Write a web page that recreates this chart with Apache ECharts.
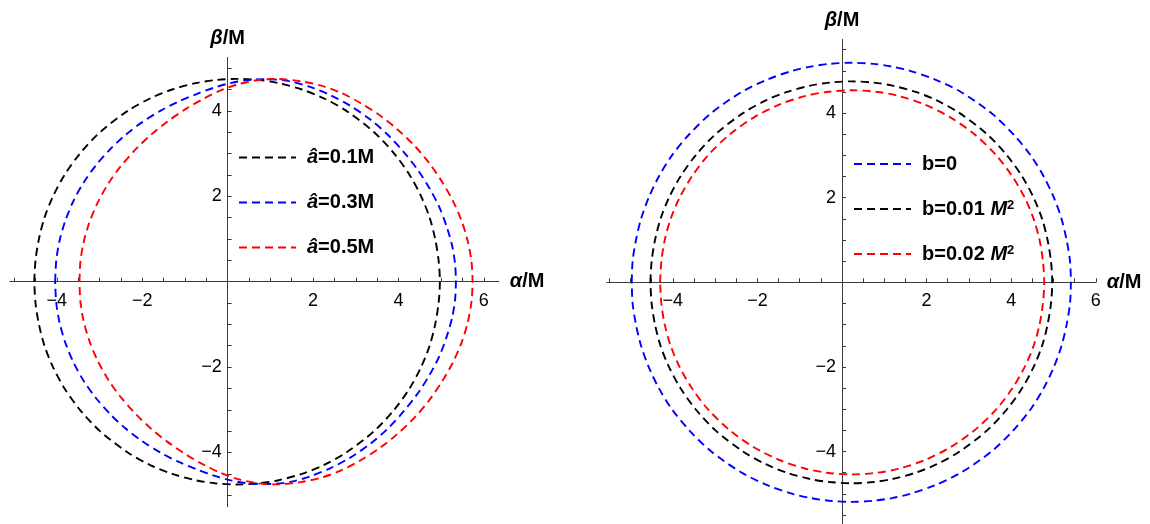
<!DOCTYPE html>
<html>
<head>
<meta charset="utf-8">
<script src="https://cdn.jsdelivr.net/npm/echarts@6/dist/echarts.min.js"></script>
<style>
html,body{margin:0;padding:0;background:#fff;}
#c{width:1150px;height:524px;}
</style>
</head>
<body>
<div id="c"></div>
<script>
// ---------- data (upper halves; curves are symmetric in beta) ----------
// left panel: a-hat = 0.1M (black), 0.3M (blue), 0.5M (red)
const shadowA01 = [[-4.53,0],[-4.5,0.5],[-4.42,1.0],[-4.29,1.5],[-4.09,2.0],[-3.82,2.5],[-3.46,3.0],[-2.99,3.5],[-2.34,4.0],[-1.8,4.3],[-1.3,4.5],[-0.75,4.65],[-0.3,4.72],[0.22,4.75],[0.75,4.72],[1.19,4.65],[1.74,4.5],[2.24,4.3],[2.78,4.0],[3.43,3.5],[3.9,3.0],[4.26,2.5],[4.53,2.0],[4.73,1.5],[4.86,1.0],[4.94,0.5],[4.97,0]];
const shadowA03 = [[-4.04,0],[-4.014,0.5],[-3.938,0.953],[-3.8,1.434],[-3.609,1.896],[-3.371,2.325],[-3.086,2.724],[-2.741,3.113],[-2.405,3.427],[-2.008,3.731],[-1.567,4.007],[-1.157,4.216],[-0.714,4.4],[-0.338,4.537],[0.047,4.647],[0.461,4.72],[0.98,4.74],[1.46,4.69],[1.93,4.56],[2.4,4.37],[2.87,4.12],[3.35,3.79],[3.76,3.43],[4.12,3.04],[4.45,2.62],[4.73,2.18],[4.96,1.74],[5.135,1.27],[5.26,0.83],[5.325,0.42],[5.345,0]];
const shadowA05 = [[-3.47,0],[-3.45,0.45],[-3.379,0.899],[-3.244,1.37],[-3.053,1.832],[-2.796,2.296],[-2.517,2.687],[-2.139,3.114],[-1.805,3.431],[-1.416,3.746],[-0.979,4.046],[-0.581,4.276],[-0.177,4.473],[0.218,4.617],[0.688,4.717],[1.137,4.748],[1.7,4.695],[2.19,4.59],[2.66,4.42],[3.1,4.19],[3.57,3.89],[3.97,3.57],[4.37,3.19],[4.71,2.79],[5.02,2.34],[5.28,1.88],[5.48,1.42],[5.62,0.96],[5.71,0.47],[5.735,0]];
// right panel: b = 0 (blue), 0.01 M^2 (black, same curve as a-hat=0.1M), 0.02 M^2 (red)
const shadowB000 = [[-4.97,0],[-4.95,0.5],[-4.87,1.0],[-4.75,1.5],[-4.57,2.0],[-4.33,2.5],[-4.02,3.0],[-3.61,3.5],[-3.09,4.0],[-2.37,4.5],[-1.75,4.8],[-1.17,5.0],[-0.74,5.1],[-0.3,5.164],[0.22,5.19],[0.74,5.164],[1.18,5.1],[1.61,5.0],[2.19,4.8],[2.81,4.5],[3.53,4.0],[4.05,3.5],[4.46,3.0],[4.77,2.5],[5.01,2.0],[5.19,1.5],[5.31,1.0],[5.39,0.5],[5.41,0]];
const shadowB001 = shadowA01;
const shadowB002 = [[-4.3,0],[-4.27,0.5],[-4.19,1.0],[-4.05,1.5],[-3.84,2.0],[-3.55,2.5],[-3.17,3.0],[-2.65,3.5],[-2.08,3.9],[-1.48,4.2],[-0.88,4.4],[-0.36,4.5],[0.24,4.54],[0.84,4.5],[1.36,4.4],[1.96,4.2],[2.56,3.9],[3.13,3.5],[3.65,3.0],[4.03,2.5],[4.32,2.0],[4.53,1.5],[4.67,1.0],[4.75,0.5],[4.78,0]];

const leftNames  = ['â=0.1M','â=0.3M','â=0.5M'];
const rightNames = ['b=0','b=0.01 M²','b=0.02 M²'];

// tick positions and labelled ticks
const leftXTicks  = [-5,-4.5,-4,-3.5,-3,-2.5,-2,-1.5,-1,-0.5,0.5,1,1.5,2,2.5,3,3.5,4,4.5,5,5.5,6];
const leftYTicks  = [-5,-4.5,-4,-3.5,-3,-2.5,-2,-1.5,-1,-0.5,0.5,1,1.5,2,2.5,3,3.5,4,4.5,5];
const rightXTicks = [-5.5,-5,-4.5,-4,-3.5,-3,-2.5,-2,-1.5,-1,-0.5,0.5,1,1.5,2,2.5,3,3.5,4,4.5,5,5.5,6];
const rightYTicks = [-5.5,-5,-4.5,-4,-3.5,-3,-2.5,-2,-1.5,-1,-0.5,0.5,1,1.5,2,2.5,3,3.5,4,4.5,5,5.5];
const xLabelValues = [-4,-2,2,4,6];
const yLabelValues = [-4,-2,2,4];

// ---------- build ----------
function closeLoop(upper){
  const lower = upper.slice(0, -1).reverse().map(p => [p[0], -p[1]]);
  return upper.concat(lower).concat([upper[0]]);
}
const FONT = '"Liberation Sans", Arial, sans-serif';
const AXIS_COLOR = '#3a3a3a';
const fmt = v => (v < 0 ? '\u2212' + Math.abs(v) : String(v));

// panel geometry (pixels)
const panels = [
  {left:9.9,  top:57.5, width:488.9, height:449.2, x:[-5.1, 6.35], y:[-5.27, 5.25], xt:leftXTicks,  yt:leftYTicks},
  {left:606.8, top:39.5, width:489,  height:484.8, x:[-5.56, 6.0], y:[-5.72, 5.74], xt:rightXTicks, yt:rightYTicks}
];

function xAxisCfg(i){
  const p = panels[i];
  const zeroY = p.top + p.height * p.y[1] / (p.y[1] - p.y[0]);
  return {
    type:'value', gridIndex:i, min:p.x[0], max:p.x[1], position:'bottom',
    offset: -(p.top + p.height - zeroY),
    name:'{it|α}/M', nameLocation:'end', nameGap:11,
    nameTextStyle:{fontSize:20, fontWeight:'bold', color:'#000', fontFamily:FONT,
      rich:{it:{fontSize:20, fontWeight:'bold', fontStyle:'italic', color:'#000', fontFamily:FONT}}},
    axisLine:{onZero:false, lineStyle:{color:AXIS_COLOR, width:1}},
    axisTick:{show:true, inside:true, length:4, customValues:p.xt, lineStyle:{color:AXIS_COLOR}},
    axisLabel:{customValues:xLabelValues, formatter:fmt, fontSize:18, color:'#000', fontFamily:FONT, margin:10},
    splitLine:{show:false}
  };
}
function yAxisCfg(i){
  const p = panels[i];
  const zeroX = p.left + p.width * (-p.x[0]) / (p.x[1] - p.x[0]);
  return {
    type:'value', gridIndex:i, min:p.y[0], max:p.y[1], position:'left',
    offset: -(zeroX - p.left),
    name:'{it|β}/M', nameLocation:'end', nameGap:9,
    nameTextStyle:{fontSize:20, fontWeight:'bold', color:'#000', fontFamily:FONT, align:'center',
      rich:{it:{fontSize:20, fontWeight:'bold', fontStyle:'italic', color:'#000', fontFamily:FONT}}},
    axisLine:{onZero:false, lineStyle:{color:AXIS_COLOR, width:1}},
    axisTick:{show:true, inside:true, length:4, customValues:p.yt, lineStyle:{color:AXIS_COLOR}},
    axisLabel:{customValues:yLabelValues, formatter:fmt, fontSize:18, color:'#000', fontFamily:FONT, margin:6},
    splitLine:{show:false}
  };
}
function curve(name, data, color, idx){
  return {
    type:'line', name, data:closeLoop(data), xAxisIndex:idx, yAxisIndex:idx,
    showSymbol:false, symbol:'none', smooth:0.3, clip:false,
    lineStyle:{color, width:1.9, type:[8,5]}, itemStyle:{color},
    emphasis:{disabled:true}, silent:true
  };
}
const richLegend = {
  it:{fontSize:20, fontWeight:'bold', fontStyle:'italic', color:'#000', fontFamily:FONT},
  sup:{fontSize:13, fontWeight:'bold', color:'#000', fontFamily:FONT, verticalAlign:'top', padding:[0,0,8,0]}
};
const legendText = {
  'â=0.1M':'{it|â}=0.1M', 'â=0.3M':'{it|â}=0.3M', 'â=0.5M':'{it|â}=0.5M',
  'b=0':'b=0', 'b=0.01 M²':'b=0.01 {it|M}{sup|2}', 'b=0.02 M²':'b=0.02 {it|M}{sup|2}'
};
function legendCfg(names, left, top){
  return {
    data:names, orient:'vertical', left, top, padding:0, itemWidth:57, itemHeight:10, itemGap:25,
    selectedMode:false,
    itemStyle:{opacity:0},
    formatter:n => legendText[n],
    textStyle:{fontSize:20, fontWeight:'bold', color:'#000', fontFamily:FONT, lineHeight:20, padding:[0,0,0,6], rich:richLegend}
  };
}

const chart = echarts.init(document.getElementById('c'), null, {renderer:'canvas'});
chart.setOption({
  animation:false,
  backgroundColor:'#fff',
  grid: panels.map(p => ({left:p.left, top:p.top, width:p.width, height:p.height, containLabel:false, outerBoundsMode:'none'})),
  xAxis:[ xAxisCfg(0), xAxisCfg(1) ],
  yAxis:[ yAxisCfg(0), yAxisCfg(1) ],
  legend:[ legendCfg(leftNames, 238, 147.5), legendCfg(rightNames, 853, 154) ],
  series:[
    curve(leftNames[0], shadowA01, '#000000', 0),
    curve(leftNames[1], shadowA03, '#0000ff', 0),
    curve(leftNames[2], shadowA05, '#ff0000', 0),
    curve(rightNames[0], shadowB000, '#0000ff', 1),
    curve(rightNames[1], shadowB001, '#000000', 1),
    curve(rightNames[2], shadowB002, '#ff0000', 1)
  ]
});
</script>
</body>
</html>
